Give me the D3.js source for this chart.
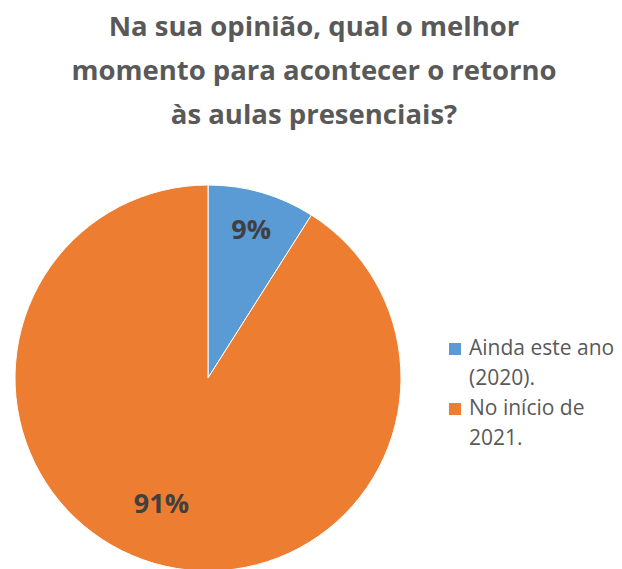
<!DOCTYPE html>
<html><head><meta charset="utf-8">
<script src="https://cdn.jsdelivr.net/npm/d3@7"></script>
<style>body{margin:0;background:#fff}svg{display:block}</style>
</head><body>
<svg id="c" width="622" height="569"></svg>
<script>
const categories = ["Ainda este ano (2020).", "No início de 2021."];
const legendLines = [["Ainda este ano", "(2020)."], ["No início de", "2021."]];
const values = [9, 91];
const labels = ["9%", "91%"];
const colors = ["#5B9BD5", "#ED7D31"];
const titleLines = ["Na sua opinião, qual o melhor", "momento para acontecer o retorno", "às aulas presenciais?"];

const svg = d3.select("#c");
const font = "'Open Sans', sans-serif";

svg.append("g").selectAll("text").data(titleLines).join("text")
  .attr("x", 314).attr("y", (d,i)=>36+i*44)
  .attr("text-anchor","middle")
  .attr("font-family", font).attr("font-weight","bold").attr("font-size", 27.5)
  .attr("fill","#595959").text(d=>d);

const cx = 208, cy = 378, r = 193;
const pie = d3.pie().sort(null).value(d=>d);
const arcs = pie(values);
const arc = d3.arc().innerRadius(0).outerRadius(r);
const g = svg.append("g").attr("transform",`translate(${cx},${cy})`);
g.selectAll("path").data(arcs).join("path")
  .attr("d", arc).attr("fill",(d,i)=>colors[i])
  .attr("stroke","#fff").attr("stroke-width",1);

const lpos = [0.80, 0.68];
g.selectAll("text").data(arcs).join("text")
  .attr("transform",(d,i)=>{
    const c = d3.arc().innerRadius(r*lpos[i]).outerRadius(r*lpos[i]).centroid(d);
    return `translate(${c[0] - (i===1?10:0)},${c[1]})`;
  })
  .attr("text-anchor","middle").attr("dy","0.35em")
  .attr("font-family", font).attr("font-weight","bold").attr("font-size", 27)
  .attr("fill","#404040").text((d,i)=>labels[i]);

const lg = svg.append("g");
legendLines.forEach((lines,i)=>{
  const y0 = 355 + i*60;
  lg.append("rect").attr("x",449).attr("y",y0-12).attr("width",12).attr("height",12).attr("fill",colors[i]);
  lines.forEach((t,j)=>{
    lg.append("text").attr("x",469).attr("y",y0+j*30)
      .attr("font-family", font).attr("font-size",21).attr("fill","#595959").text(t);
  });
});
</script>
</body></html>
